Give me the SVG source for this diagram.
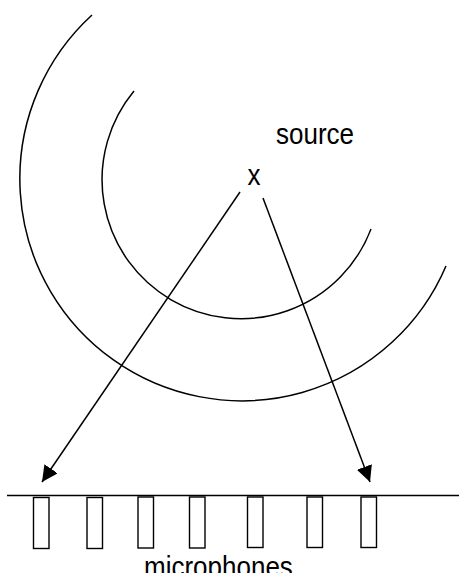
<svg xmlns="http://www.w3.org/2000/svg" width="459" height="573" viewBox="0 0 459 573">
<defs>
<style>
.ln{fill:none;stroke:#000;stroke-width:1.5}
.mic{fill:#fff;stroke:#000;stroke-width:1.4}
.t{font-family:"Liberation Sans",Arial,sans-serif;font-size:26px;fill:#000}
</style>
<marker id="ah" markerWidth="18" markerHeight="18" refX="16" refY="8" orient="auto" markerUnits="userSpaceOnUse">
<path d="M0,0 L16,8 L0,16 Z" fill="#000"/>
</marker>
</defs>
<rect width="459" height="573" fill="#fff"/>
<g id="waves">
<path class="ln" d="M134,91 A139,139 0 1 0 371,229"/>
<path class="ln" d="M92,15 A222,222 0 1 0 446,266"/>
</g>
<g id="source">
<text class="t" transform="translate(247.5,185) scale(1,1.1)">x</text>
<text class="t" transform="translate(276,144) scale(1,1.1)">source</text>
</g>
<g id="connectors">
<line class="ln" x1="240" y1="192" x2="42" y2="482" marker-end="url(#ah)"/>
<line class="ln" x1="263" y1="198" x2="370" y2="482" marker-end="url(#ah)"/>
</g>
<g id="array">
<line class="ln" x1="7" y1="495.5" x2="459" y2="495.5"/>
<rect class="mic" x="33.5" y="497.5" width="15.5" height="51"/>
<rect class="mic" x="87" y="497.5" width="15.5" height="51"/>
<rect class="mic" x="138" y="497" width="15.5" height="51"/>
<rect class="mic" x="189.5" y="497" width="15.5" height="51"/>
<rect class="mic" x="247.5" y="497" width="15.5" height="50.5"/>
<rect class="mic" x="307" y="497" width="15.5" height="50.5"/>
<rect class="mic" x="361" y="497" width="15.5" height="50.5"/>
<text class="t" transform="translate(144,576.5) scale(1,1.1)">microphones</text>
</g>
</svg>
